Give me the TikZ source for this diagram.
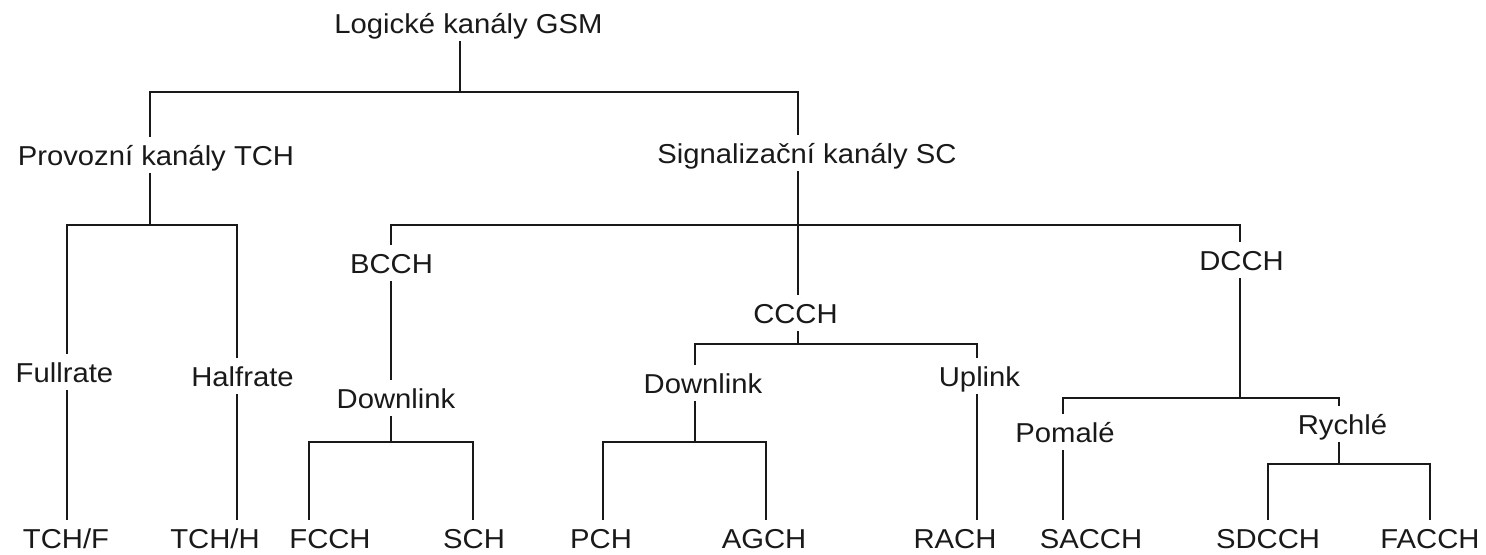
\documentclass[tikz,border=0pt]{standalone}
\usepackage{fontspec}
\usepackage{graphicx}
\setmainfont{Liberation Sans}
\newcommand\lbl[1]{\scalebox{1.07}[1]{#1}}
\tikzset{
  lab/.style={anchor=base, inner sep=0pt, outer ysep=6.75pt, text height=15pt, text depth=0pt,
    font=\fontsize{20.5}{24}\selectfont, text=black!90},
  conn/.style={line width=1.3pt, black!90, line cap=rect}
}
\begin{document}
\begin{tikzpicture}[x=0.75pt, y=-0.75pt]
\useasboundingbox (0,0) rectangle (1486,554);
% nodes
\node[lab] (root) at (468.5,33) {\lbl{Logické kanály GSM}};
\node[lab] (tch) at (156,165) {\lbl{Provozní kanály TCH}};
\node[lab] (sc) at (807,163) {\lbl{Signalizační kanály SC}};
\node[lab] (full) at (64.5,382) {\lbl{Fullrate}};
\node[lab] (half) at (242.5,386) {\lbl{Halfrate}};
\node[lab] (bcch) at (391.5,273) {\lbl{BCCH}};
\node[lab] (ccch) at (795.5,323) {\lbl{CCCH}};
\node[lab] (dcch) at (1241.5,270) {\lbl{DCCH}};
\node[lab] (dl1) at (396,408) {\lbl{Downlink}};
\node[lab] (dl2) at (703,393) {\lbl{Downlink}};
\node[lab] (ul) at (979.5,386) {\lbl{Uplink}};
\node[lab] (pom) at (1065,442) {\lbl{Pomalé}};
\node[lab] (ryc) at (1342.5,434) {\lbl{Rychlé}};
\node[lab] (tchf) at (66,548) {\lbl{TCH/F}};
\node[lab] (tchh) at (215,548) {\lbl{TCH/H}};
\node[lab] (fcch) at (330,548) {\lbl{FCCH}};
\node[lab] (sch) at (474,548) {\lbl{SCH}};
\node[lab] (pch) at (601,548) {\lbl{PCH}};
\node[lab] (agch) at (764,548) {\lbl{AGCH}};
\node[lab] (rach) at (955,548) {\lbl{RACH}};
\node[lab] (sacch) at (1091,548) {\lbl{SACCH}};
\node[lab] (sdcch) at (1268,548) {\lbl{SDCCH}};
\node[lab] (facch) at (1430,548) {\lbl{FACCH}};
% bar junctions
\coordinate (b1L) at (150,92);  \coordinate (b1M) at (460,92);  \coordinate (b1R) at (798,92);
\coordinate (b2L) at (67,225);  \coordinate (b2M) at (150,225); \coordinate (b2R) at (237,225);
\coordinate (b3L) at (391,225); \coordinate (b3M) at (798,225); \coordinate (b3R) at (1240,225);
\coordinate (b4L) at (309,442); \coordinate (b4M) at (391,442); \coordinate (b4R) at (473,442);
\coordinate (b5L) at (695,344); \coordinate (b5M) at (798,344); \coordinate (b5R) at (977,344);
\coordinate (b6L) at (603,442); \coordinate (b6M) at (695,442); \coordinate (b6R) at (766,442);
\coordinate (b7L) at (1063,398);\coordinate (b7M) at (1240,398);\coordinate (b7R) at (1339,398);
\coordinate (b8L) at (1268,464);\coordinate (b8M) at (1339,464);\coordinate (b8R) at (1430,464);
% connectors
\draw[conn] (root.south -| b1M) -- (b1M);
\draw[conn] (tch.north -| b1L) -- (b1L) -- (b1R) -- (sc.north -| b1R);
\draw[conn] (tch.south -| b2M) -- (b2M);
\draw[conn] (full.north -| b2L) -- (b2L) -- (b2R) -- (half.north -| b2R);
\draw[conn] (full.south -| b2L) -- (tchf.north -| b2L);
\draw[conn] (half.south -| b2R) -- (tchh.north -| b2R);
\draw[conn] (sc.south -| b3M) -- (ccch.north -| b3M);
\draw[conn] (bcch.north -| b3L) -- (b3L) -- (b3R) -- (dcch.north -| b3R);
\draw[conn] (bcch.south -| b4M) -- (dl1.north -| b4M);
\draw[conn] (dl1.south -| b4M) -- (b4M);
\draw[conn] (fcch.north -| b4L) -- (b4L) -- (b4R) -- (sch.north -| b4R);
\draw[conn] (ccch.south -| b5M) -- (b5M);
\draw[conn] (dl2.north -| b5L) -- (b5L) -- (b5R) -- (ul.north -| b5R);
\draw[conn] (dl2.south -| b6M) -- (b6M);
\draw[conn] (pch.north -| b6L) -- (b6L) -- (b6R) -- (agch.north -| b6R);
\draw[conn] (ul.south -| b5R) -- (rach.north -| b5R);
\draw[conn] (dcch.south -| b7M) -- (b7M);
\draw[conn] (pom.north -| b7L) -- (b7L) -- (b7R) -- (ryc.north -| b7R);
\draw[conn] (pom.south -| b7L) -- (sacch.north -| b7L);
\draw[conn] (ryc.south -| b8M) -- (b8M);
\draw[conn] (sdcch.north -| b8L) -- (b8L) -- (b8R) -- (facch.north -| b8R);
\end{tikzpicture}
\end{document}
